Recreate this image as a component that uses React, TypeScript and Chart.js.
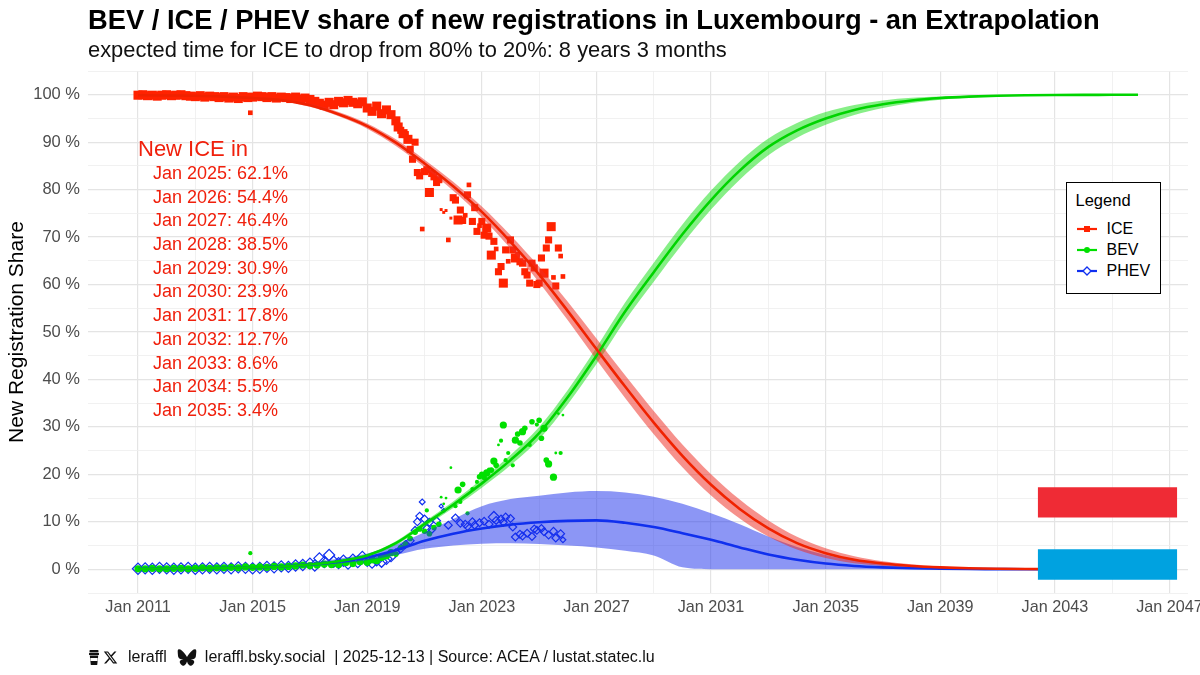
import React, { useEffect, useRef } from 'react';
import { Chart, registerables } from 'chart.js';

Chart.register(...registerables);

const FONT = "'Liberation Sans', Arial, Helvetica, sans-serif";
Chart.defaults.font.family = FONT;

// ---------- fitted curves (share in %) ----------
const fitYears = [2011, 2012, 2013, 2014, 2015, 2016, 2017, 2018, 2019, 2020, 2021, 2022, 2023, 2024, 2025, 2026, 2027, 2028, 2029, 2030, 2031, 2032, 2033, 2034, 2035, 2036, 2037, 2038, 2039, 2040, 2041, 2042, 2043, 2044, 2045, 2045.9];

const iceFit = [99.9, 99.85, 99.8, 99.6, 99.3, 98.9, 97.8, 95.9, 93.4, 89.9, 85.5, 80.7, 75.3, 69.0, 62.1, 54.4, 46.4, 38.5, 30.9, 23.9, 17.8, 12.7, 8.6, 5.5, 3.4, 2.0, 1.2, 0.7, 0.4, 0.2, 0.1, 0.05, 0.03, 0.02, 0.01, 0.01];
const iceBandHalf = [0.1, 0.1, 0.1, 0.15, 0.2, 0.25, 0.35, 0.45, 0.55, 0.7, 0.8, 0.95, 1.15, 1.4, 1.65, 1.95, 2.25, 2.4, 2.45, 2.4, 2.25, 2.0, 1.7, 1.35, 1.05, 0.75, 0.5, 0.35, 0.2, 0.12, 0.07, 0.04, 0.02, 0.01, 0.01, 0.01];

const bevFit = [0.1, 0.15, 0.2, 0.3, 0.4, 0.6, 1.0, 1.7, 2.9, 5.5, 9.5, 13.6, 18.1, 23.0, 28.7, 36.3, 45.0, 54.3, 62.6, 70.6, 77.8, 84.0, 89.0, 92.5, 95.0, 96.8, 98.0, 98.8, 99.3, 99.6, 99.8, 99.9, 99.95, 99.97, 99.98, 99.99];
const bevBandHalf = [0.05, 0.05, 0.05, 0.05, 0.05, 0.05, 0.1, 0.15, 0.25, 0.4, 0.55, 0.7, 0.9, 1.1, 1.3, 1.5, 1.75, 1.9, 2.0, 2.05, 2.0, 1.9, 1.75, 1.55, 1.35, 1.05, 0.8, 0.55, 0.35, 0.2, 0.1, 0.05, 0.05, 0.05, 0.05, 0.05];

const phevFit = [0.1, 0.15, 0.2, 0.3, 0.4, 0.6, 1.0, 1.6, 2.5, 4.0, 6.0, 7.5, 8.6, 9.4, 9.9, 10.2, 10.3, 9.8, 8.9, 7.6, 6.2, 4.6, 3.1, 2.0, 1.2, 0.7, 0.4, 0.2, 0.1, 0.05, 0.03, 0.02, 0.01, 0, 0, 0];
const phevLo = [0, 0.05, 0.1, 0.15, 0.25, 0.4, 0.7, 1.2, 1.9, 3.0, 4.3, 5.0, 5.4, 5.5, 5.3, 5.0, 4.6, 3.9, 2.9, 0.4, 0, 0, 0, 0, 0, 0, 0, 0, 0, 0, 0, 0, 0, 0, 0, 0];
const phevHi = [0.2, 0.25, 0.35, 0.45, 0.6, 0.9, 1.4, 2.2, 3.3, 5.2, 7.8, 10.6, 13.3, 14.8, 15.5, 16.2, 16.5, 16.2, 15.3, 13.8, 11.8, 9.5, 6.9, 4.7, 3.0, 1.9, 1.2, 0.7, 0.4, 0.2, 0.1, 0.05, 0.02, 0.01, 0, 0];

// ---------- observed shares: [decimal year, share %, weight] ----------
const iceObs: [number, number, number][] = [
  [2011.00, 99.9, 4], [2011.17, 100.0, 4], [2011.33, 99.8, 4], [2011.50, 99.9, 4], [2011.67, 99.7, 4], [2011.83, 99.9, 4],
  [2012.00, 100.0, 4], [2012.17, 99.8, 4], [2012.33, 99.9, 4], [2012.50, 100.0, 4], [2012.67, 99.8, 4], [2012.83, 99.7, 4],
  [2013.00, 99.6, 4], [2013.17, 99.8, 4], [2013.33, 99.5, 4], [2013.50, 99.7, 4], [2013.67, 99.6, 4], [2013.83, 99.4, 4],
  [2014.00, 99.6, 4], [2014.17, 99.3, 4], [2014.33, 99.5, 4], [2014.50, 99.2, 4], [2014.67, 99.6, 4], [2014.83, 99.4, 4], [2014.92, 96.2, 2],
  [2015.00, 99.5, 4], [2015.17, 99.7, 4], [2015.33, 99.6, 4], [2015.50, 99.4, 4], [2015.67, 99.6, 4], [2015.83, 99.3, 4],
  [2016.00, 99.5, 4], [2016.17, 99.4, 4], [2016.33, 99.2, 4], [2016.50, 99.5, 4], [2016.67, 99.1, 4], [2016.83, 99.3, 4],
  [2017.00, 99.0, 4], [2017.17, 98.6, 4], [2017.33, 98.2, 4], [2017.50, 97.8, 4], [2017.67, 98.4, 4], [2017.83, 97.9, 4],
  [2018.00, 98.6, 4], [2018.17, 98.3, 4], [2018.33, 98.8, 4], [2018.50, 98.4, 4], [2018.67, 98.1, 4], [2018.83, 98.5, 4],
  [2019.00, 97.2, 4], [2019.17, 96.5, 4], [2019.33, 97.6, 4], [2019.50, 96.0, 4], [2019.67, 96.8, 4], [2019.83, 95.8, 4],
  [2020.00, 94.5, 4], [2020.08, 93.2, 4], [2020.17, 92.5, 3], [2020.25, 91.8, 4], [2020.33, 91.6, 3], [2020.42, 90.6, 4],
  [2020.50, 88.5, 3], [2020.58, 86.4, 3], [2020.67, 90.0, 3], [2020.75, 83.6, 3], [2020.83, 82.9, 3], [2020.92, 71.7, 2],
  [2021.00, 83.8, 3], [2021.08, 84.2, 3], [2021.17, 79.4, 4], [2021.25, 83.4, 3], [2021.33, 82.7, 3], [2021.42, 81.5, 3],
  [2021.50, 82.1, 3], [2021.58, 75.8, 1], [2021.67, 75.2, 1], [2021.75, 75.6, 1], [2021.83, 69.4, 2], [2021.92, 74.0, 1],
  [2022.00, 78.3, 3], [2022.08, 77.8, 3], [2022.17, 73.6, 4], [2022.25, 75.7, 3], [2022.33, 73.5, 3], [2022.42, 74.6, 2],
  [2022.50, 78.9, 3], [2022.55, 81.0, 2], [2022.67, 73.3, 3], [2022.75, 76.2, 3], [2022.83, 71.2, 3], [2022.92, 72.4, 2],
  [2023.00, 73.3, 3], [2023.08, 70.4, 3], [2023.17, 71.9, 4], [2023.25, 70.2, 3], [2023.33, 66.2, 4], [2023.42, 69.1, 3],
  [2023.50, 67.5, 2], [2023.58, 62.7, 3], [2023.67, 63.8, 3], [2023.75, 60.3, 4], [2023.83, 67.3, 3], [2023.92, 64.9, 2],
  [2024.00, 69.4, 3], [2024.08, 67.3, 3], [2024.17, 65.6, 4], [2024.25, 66.4, 2], [2024.33, 64.8, 3], [2024.42, 64.5, 3],
  [2024.50, 62.7, 3], [2024.58, 62.0, 3], [2024.67, 60.3, 3], [2024.75, 64.5, 3], [2024.83, 63.5, 3], [2024.92, 60.0, 3],
  [2025.00, 60.3, 3], [2025.08, 65.6, 3], [2025.17, 62.4, 4], [2025.25, 67.7, 3], [2025.33, 69.4, 3], [2025.42, 72.2, 4],
  [2025.50, 61.5, 2], [2025.58, 59.7, 3], [2025.67, 67.7, 3], [2025.75, 66.0, 2], [2025.83, 61.7, 2],
];

const bevObs: [number, number, number][] = [
  [2011.00, 0.1, 4], [2011.25, 0.1, 4], [2011.50, 0.2, 4], [2011.75, 0.1, 4], [2012.00, 0.1, 4], [2012.25, 0.2, 4], [2012.50, 0.2, 4], [2012.75, 0.1, 4],
  [2013.00, 0.2, 4], [2013.25, 0.3, 4], [2013.50, 0.2, 4], [2013.75, 0.3, 4], [2014.00, 0.3, 4], [2014.25, 0.4, 4], [2014.50, 0.3, 4], [2014.75, 0.5, 4], [2014.92, 3.4, 2],
  [2015.00, 0.4, 4], [2015.25, 0.5, 4], [2015.50, 0.4, 4], [2015.75, 0.6, 4], [2016.00, 0.5, 4], [2016.25, 0.6, 4], [2016.50, 0.7, 4], [2016.75, 0.9, 4],
  [2017.00, 0.8, 4], [2017.25, 0.9, 4], [2017.50, 1.1, 4], [2017.75, 1.0, 4], [2018.00, 1.0, 4], [2018.25, 1.4, 4], [2018.50, 1.2, 4], [2018.75, 1.6, 4],
  [2019.00, 1.5, 4], [2019.17, 2.0, 4], [2019.33, 1.8, 4], [2019.50, 2.5, 4], [2019.67, 2.8, 4], [2019.83, 3.5, 4],
  [2020.00, 3.2, 3], [2020.17, 4.6, 3], [2020.33, 5.3, 3], [2020.50, 6.5, 3], [2020.67, 7.8, 3], [2020.83, 8.5, 3],
  [2021.00, 8.0, 3], [2021.08, 12.4, 2], [2021.17, 7.5, 3], [2021.33, 8.8, 3], [2021.50, 9.5, 3], [2021.58, 15.2, 1], [2021.67, 13.8, 1], [2021.75, 15.0, 1], [2021.92, 21.4, 1],
  [2022.08, 13.3, 2], [2022.17, 16.7, 4], [2022.25, 14.2, 2], [2022.33, 17.9, 3], [2022.50, 11.8, 2], [2022.67, 16.9, 2], [2022.83, 18.4, 2], [2022.92, 19.5, 3],
  [2023.00, 20.0, 3], [2023.08, 19.4, 3], [2023.17, 20.3, 4], [2023.25, 21.0, 2], [2023.33, 20.9, 3], [2023.42, 22.8, 4], [2023.50, 21.9, 3], [2023.58, 26.2, 1],
  [2023.67, 27.1, 2], [2023.75, 30.4, 4], [2023.83, 23.0, 2], [2023.92, 24.5, 2],
  [2024.08, 21.9, 2], [2024.17, 27.2, 4], [2024.25, 28.5, 3], [2024.33, 26.6, 3], [2024.42, 29.0, 4], [2024.50, 29.7, 3], [2024.67, 26.2, 2], [2024.75, 31.1, 3], [2024.92, 30.5, 2],
  [2025.00, 31.4, 3], [2025.08, 27.6, 3], [2025.17, 29.7, 4], [2025.25, 23.0, 3], [2025.33, 22.2, 4], [2025.50, 19.4, 4], [2025.58, 24.5, 1], [2025.67, 32.8, 1], [2025.75, 24.5, 2], [2025.83, 32.5, 1],
];

const phevObs: [number, number, number][] = [
  [2011.00, 0.1, 4], [2011.25, 0.2, 4], [2011.50, 0.1, 4], [2011.75, 0.3, 4], [2012.00, 0.2, 4], [2012.25, 0.1, 4], [2012.50, 0.2, 4], [2012.75, 0.3, 4],
  [2013.00, 0.1, 4], [2013.25, 0.2, 4], [2013.50, 0.3, 4], [2013.75, 0.2, 4], [2014.00, 0.3, 4], [2014.25, 0.2, 4], [2014.50, 0.4, 4], [2014.75, 0.3, 4],
  [2015.00, 0.2, 4], [2015.25, 0.3, 4], [2015.50, 0.5, 4], [2015.75, 0.4, 4], [2016.00, 0.6, 4], [2016.25, 0.5, 4], [2016.50, 0.8, 4], [2016.75, 0.9, 4],
  [2017.00, 1.2, 4], [2017.17, 0.8, 4], [2017.33, 2.3, 4], [2017.50, 1.5, 4], [2017.67, 3.0, 4], [2017.83, 1.6, 4],
  [2018.00, 1.3, 4], [2018.17, 1.8, 4], [2018.33, 1.2, 4], [2018.50, 2.0, 4], [2018.67, 1.5, 4], [2018.83, 2.6, 4],
  [2019.00, 1.8, 4], [2019.17, 1.4, 4], [2019.33, 1.9, 4], [2019.50, 1.6, 4], [2019.67, 2.2, 4], [2019.83, 2.8, 4],
  [2020.00, 3.5, 3], [2020.17, 4.3, 3], [2020.33, 5.2, 3], [2020.50, 6.0, 3], [2020.67, 8.2, 3], [2020.75, 10.0, 3], [2020.83, 11.2, 3], [2020.92, 14.2, 2],
  [2021.00, 10.6, 3], [2021.08, 8.6, 3], [2021.17, 9.9, 3], [2021.25, 8.4, 3], [2021.42, 10.2, 3], [2021.58, 13.3, 1], [2021.67, 12.4, 1], [2021.83, 9.3, 3],
  [2022.08, 10.8, 3], [2022.25, 9.7, 3], [2022.42, 9.5, 3], [2022.50, 9.0, 3], [2022.67, 10.0, 3], [2022.75, 9.3, 3], [2022.92, 9.8, 3],
  [2023.08, 10.1, 3], [2023.25, 9.5, 3], [2023.42, 11.0, 4], [2023.50, 10.3, 3], [2023.67, 10.6, 3], [2023.75, 9.9, 3], [2023.83, 11.0, 3],
  [2024.00, 10.7, 3], [2024.08, 8.9, 3], [2024.17, 6.8, 3], [2024.33, 7.4, 3], [2024.42, 7.0, 3], [2024.58, 7.6, 3], [2024.75, 6.9, 3], [2024.83, 8.5, 3], [2024.92, 8.2, 3],
  [2025.08, 8.6, 3], [2025.17, 7.9, 3], [2025.33, 7.2, 3], [2025.50, 8.0, 3], [2025.58, 6.6, 3], [2025.75, 7.5, 3], [2025.83, 6.2, 2],
];

// ---------- ICE outlook annotation ----------
const outlookYears = [2025, 2026, 2027, 2028, 2029, 2030, 2031, 2032, 2033, 2034, 2035];
const outlookIceShare = [62.1, 54.4, 46.4, 38.5, 30.9, 23.9, 17.8, 12.7, 8.6, 5.5, 3.4];

// ---------- axes ----------
const xGridYears = [2011, 2013, 2015, 2017, 2019, 2021, 2023, 2025, 2027, 2029, 2031, 2033, 2035, 2037, 2039, 2041, 2043, 2045, 2047];
const xLabelYears = [2011, 2015, 2019, 2023, 2027, 2031, 2035, 2039, 2043, 2047];
const yGridValues = [-5, 0, 5, 10, 15, 20, 25, 30, 35, 40, 45, 50, 55, 60, 65, 70, 75, 80, 85, 90, 95, 100, 105];
const yLabelValues = [0, 10, 20, 30, 40, 50, 60, 70, 80, 90, 100];

// ---------- Luxembourg flag (x in years, y in %) ----------
const flagYears = [2042.4, 2047.27];
const flagRed = [10.9, 17.3];
const flagBlue = [-2.2, 4.2];

const X_MIN = 2009.255;
const X_MAX = 2047.645;
const Y_MIN = -5;
const Y_MAX = 105;

const ICE_COLOR = '#FF2200';
const BEV_COLOR = '#00E000';
const PHEV_COLOR = '#1030F0';
const TEXT_RED = '#F0200C';
const GRID_MAJOR = '#E4E4E4';
const GRID_MINOR = '#EEEEEE';

// marker radius by weight (index = weight)
const ICE_R = [0, 2.1, 3.3, 5.0, 6.4];
const BEV_R = [0, 1.4, 2.1, 2.8, 3.6];
const PHEV_R = [0, 2.0, 2.9, 3.9, 5.6];

const toXY = (xs: number[], ys: number[]) => xs.map((x, i) => ({ x, y: ys[i] }));
const obsXY = (obs: [number, number, number][]) => obs.map(([x, y]) => ({ x, y }));

const TRANSPARENT = 'rgba(0,0,0,0)';

function fitLine(ys: number[], color: string) {
  return {
    type: 'line',
    data: toXY(fitYears, ys),
    borderColor: color,
    borderWidth: 2.6,
    pointRadius: 0,
    fill: false,
    cubicInterpolationMode: 'monotone',
    order: 1,
  };
}

function bandEdge(ys: number[], fillColor: string | null) {
  return {
    type: 'line',
    data: toXY(fitYears, ys),
    borderColor: TRANSPARENT,
    borderWidth: 0,
    pointRadius: 0,
    backgroundColor: fillColor || TRANSPARENT,
    fill: fillColor ? '+1' : false,
    cubicInterpolationMode: 'monotone',
    order: 2,
  };
}

function flagEdge(ys: number[], fillColor: string | null) {
  return {
    type: 'line',
    data: toXY(flagYears, ys),
    borderColor: TRANSPARENT,
    borderWidth: 0,
    pointRadius: 0,
    backgroundColor: fillColor || TRANSPARENT,
    fill: fillColor ? '+1' : false,
    order: 0,
  };
}

const outlookPlugin = {
  id: 'iceOutlook',
  afterDatasetsDraw(chart: any) {
    const { ctx, scales } = chart;
    const x = scales.x;
    const y = scales.y;
    ctx.save();
    ctx.fillStyle = TEXT_RED;
    ctx.textAlign = 'left';
    ctx.textBaseline = 'middle';
    ctx.font = `22px ${FONT}`;
    ctx.fillText('New ICE in', x.getPixelForValue(2011.0), y.getPixelForValue(88.3));
    ctx.font = `18px ${FONT}`;
    const x0 = x.getPixelForValue(2011.52);
    const y0 = y.getPixelForValue(83.3);
    outlookYears.forEach((yr, i) => {
      ctx.fillText(`Jan ${yr}: ${outlookIceShare[i].toFixed(1)}%`, x0, y0 + i * 23.7);
    });
    ctx.restore();
  },
};

function LegendSymbol({ kind, color }: { kind: 'rect' | 'circle' | 'diamond'; color: string }) {
  return (
    <svg width="20" height="12" viewBox="0 0 20 12" style={{ display: 'block' }}>
      <line x1="0" y1="6" x2="20" y2="6" stroke={color} strokeWidth="2.2" />
      {kind === 'rect' && <rect x="7" y="3" width="6" height="6" fill={color} />}
      {kind === 'circle' && <circle cx="10" cy="6" r="3" fill={color} />}
      {kind === 'diamond' && <polygon points="10,2 14,6 10,10 6,6" fill="#fff" stroke={color} strokeWidth="1.3" />}
    </svg>
  );
}

export default function App() {
  const canvasRef = useRef<HTMLCanvasElement>(null);

  useEffect(() => {
    document.body.style.margin = '0';
    const canvas = canvasRef.current;
    if (!canvas) return;

    const datasets: any[] = [
      flagEdge([flagRed[1], flagRed[1]], '#EF2B35'),
      flagEdge([flagRed[0], flagRed[0]], null),
      flagEdge([flagBlue[1], flagBlue[1]], '#00A2E0'),
      flagEdge([flagBlue[0], flagBlue[0]], null),
      fitLine(iceFit, '#F02200'),
      fitLine(bevFit, '#00D400'),
      fitLine(phevFit, '#1030EE'),
      bandEdge(iceFit.map((v, i) => v + iceBandHalf[i]), 'rgba(238,45,35,0.52)'),
      bandEdge(iceFit.map((v, i) => v - iceBandHalf[i]), null),
      bandEdge(bevFit.map((v, i) => v + bevBandHalf[i]), 'rgba(0,220,0,0.47)'),
      bandEdge(bevFit.map((v, i) => v - bevBandHalf[i]), null),
      bandEdge(phevHi, 'rgba(25,45,235,0.5)'),
      bandEdge(phevLo, null),
      {
        type: 'line', showLine: false, data: obsXY(iceObs), order: 3,
        pointStyle: 'rect', pointRadius: iceObs.map((o) => ICE_R[o[2]]),
        pointBackgroundColor: ICE_COLOR, pointBorderWidth: 0, pointBorderColor: ICE_COLOR,
      },
      {
        type: 'line', showLine: false, data: obsXY(bevObs), order: 3,
        pointStyle: 'circle', pointRadius: bevObs.map((o) => BEV_R[o[2]]),
        pointBackgroundColor: BEV_COLOR, pointBorderWidth: 0, pointBorderColor: BEV_COLOR,
      },
      {
        type: 'line', showLine: false, data: obsXY(phevObs), order: 3,
        pointStyle: 'rectRot', pointRadius: phevObs.map((o) => PHEV_R[o[2]]),
        pointBackgroundColor: TRANSPARENT, pointBorderWidth: 1.2, pointBorderColor: PHEV_COLOR,
      },
    ];

    const chart = new Chart(canvas, {
      type: 'line',
      data: { datasets },
      plugins: [outlookPlugin],
      options: {
        animation: false,
        responsive: false,
        events: [],
        layout: { padding: { top: 71, right: 12, bottom: 42, left: 0 } },
        plugins: {
          legend: { display: false },
          tooltip: { enabled: false },
          title: { display: false },
        },
        scales: {
          x: {
            type: 'linear',
            min: X_MIN,
            max: X_MAX,
            afterBuildTicks: (s: any) => { s.ticks = xGridYears.map((v) => ({ value: v })); },
            afterFit: (s: any) => { s.height = 40; s.paddingLeft = 0; s.paddingRight = 0; },
            ticks: {
              autoSkip: false, maxRotation: 0, minRotation: 0, padding: 5,
              color: '#4D4D4D', font: { size: 16.2, family: FONT },
              callback: (v: any) => (xLabelYears.includes(Number(v)) ? `Jan ${v}` : ''),
            },
            grid: {
              drawTicks: false,
              color: (c: any) => (xLabelYears.includes(c.tick?.value) ? GRID_MAJOR : GRID_MINOR),
              lineWidth: (c: any) => (xLabelYears.includes(c.tick?.value) ? 1.2 : 0.8),
            },
            border: { display: false },
          },
          y: {
            type: 'linear',
            min: Y_MIN,
            max: Y_MAX,
            afterBuildTicks: (s: any) => { s.ticks = yGridValues.map((v) => ({ value: v })); },
            afterFit: (s: any) => { s.width = 88; s.paddingTop = 0; s.paddingBottom = 0; },
            ticks: {
              autoSkip: false, padding: 8,
              color: '#4D4D4D', font: { size: 16.5, family: FONT },
              callback: (v: any) => (yLabelValues.includes(Number(v)) ? `${v} %` : ''),
            },
            grid: {
              drawTicks: false,
              color: (c: any) => (yLabelValues.includes(c.tick?.value) ? GRID_MAJOR : GRID_MINOR),
              lineWidth: (c: any) => (yLabelValues.includes(c.tick?.value) ? 1.2 : 0.8),
            },
            border: { display: false },
            title: {
              display: true,
              text: 'New Registration Share',
              color: '#000',
              font: { size: 21, family: FONT },
              padding: { top: 5, bottom: 0 },
            },
          },
        },
      } as any,
    } as any);

    return () => chart.destroy();
  }, []);

  const legendRow = (top: number, label: string, kind: 'rect' | 'circle' | 'diamond', color: string) => (
    <div style={{ position: 'absolute', left: 9.5, top, display: 'flex', alignItems: 'center', height: 16 }}>
      <LegendSymbol kind={kind} color={color} />
      <span style={{ marginLeft: 10, fontSize: 16, lineHeight: '16px', color: '#000' }}>{label}</span>
    </div>
  );

  return (
    <div style={{ position: 'relative', width: 1200, height: 675, background: '#fff', overflow: 'hidden', fontFamily: FONT }}>
      <canvas ref={canvasRef} width={1200} height={675} style={{ position: 'absolute', left: 0, top: 0, width: 1200, height: 675 }} />
      <div style={{ position: 'absolute', left: 88, top: 6, fontSize: 27.3, fontWeight: 700, lineHeight: '27px', whiteSpace: 'nowrap', color: '#000' }}>
        BEV / ICE / PHEV share of new registrations in Luxembourg - an Extrapolation
      </div>
      <div style={{ position: 'absolute', left: 88, top: 39, fontSize: 21.9, lineHeight: '22px', whiteSpace: 'nowrap', color: '#111' }}>
        expected time for ICE to drop from 80% to 20%: 8 years 3 months
      </div>

      <div style={{ position: 'absolute', left: 1066, top: 182, width: 95, height: 112, boxSizing: 'border-box', border: '1.5px solid #000', background: '#fff' }}>
        <div style={{ position: 'absolute', left: 8.5, top: 8.5, fontSize: 16.5, lineHeight: '16.5px', color: '#000' }}>Legend</div>
        {legendRow(37.8, 'ICE', 'rect', ICE_COLOR)}
        {legendRow(58.5, 'BEV', 'circle', BEV_COLOR)}
        {legendRow(80.2, 'PHEV', 'diamond', PHEV_COLOR)}
      </div>

      <div style={{ position: 'absolute', left: 89, top: 648, height: 18, display: 'flex', alignItems: 'center', fontSize: 16, lineHeight: '16px', whiteSpace: 'nowrap', color: '#111' }}>
        <svg width="10" height="15" viewBox="0 0 10 15" style={{ display: 'block' }}>
          <rect x="0.5" y="0" width="9" height="2.2" rx="0.8" fill="#111" />
          <rect x="0" y="2.8" width="10" height="2.2" rx="0.5" fill="#111" />
          <polygon points="0.8,5.6 9.2,5.6 8.2,15 1.8,15" fill="#111" />
          <rect x="1.4" y="8" width="7.2" height="3" fill="#fff" />
        </svg>
        <svg width="15" height="15" viewBox="0 0 24 24" style={{ display: 'block', marginLeft: 4 }}>
          <path d="M18.244 2.25h3.308l-7.227 8.26 8.502 11.24H16.17l-5.214-6.817L4.99 21.75H1.68l7.73-8.835L1.254 2.25H8.08l4.713 6.231zm-1.161 17.52h1.833L7.084 4.126H5.117z" fill="#111" />
        </svg>
        <span style={{ marginLeft: 10 }}>leraffl</span>
        <svg width="20" height="17" viewBox="0 0 600 530" style={{ display: 'block', marginLeft: 10 }}>
          <path d="m135.72 44.03c66.496 49.921 138.02 151.14 164.28 205.46 26.262-54.316 97.782-155.54 164.28-205.46 47.98-36.021 125.72-63.892 125.72 24.795 0 17.712-10.155 148.79-16.111 170.07-20.703 73.984-96.144 92.854-163.25 81.433 117.3 19.964 147.14 86.092 82.697 152.22-122.39 125.59-175.91-31.511-189.63-71.766-2.514-7.38-3.69-10.832-3.708-7.896-0.017-2.936-1.194 0.517-3.708 7.896-13.714 40.255-67.233 197.36-189.630 71.766-64.444-66.128-34.605-132.26 82.697-152.22-67.108 11.421-142.55-7.449-163.25-81.433-5.956-21.282-16.111-152.36-16.111-170.07 0-88.687 77.742-60.816 125.72-24.795z" fill="#111" />
        </svg>
        <span style={{ marginLeft: 8 }}>leraffl.bsky.social</span>
        <span style={{ marginLeft: 9 }}>| 2025-12-13 | Source: ACEA / lustat.statec.lu</span>
      </div>
    </div>
  );
}
